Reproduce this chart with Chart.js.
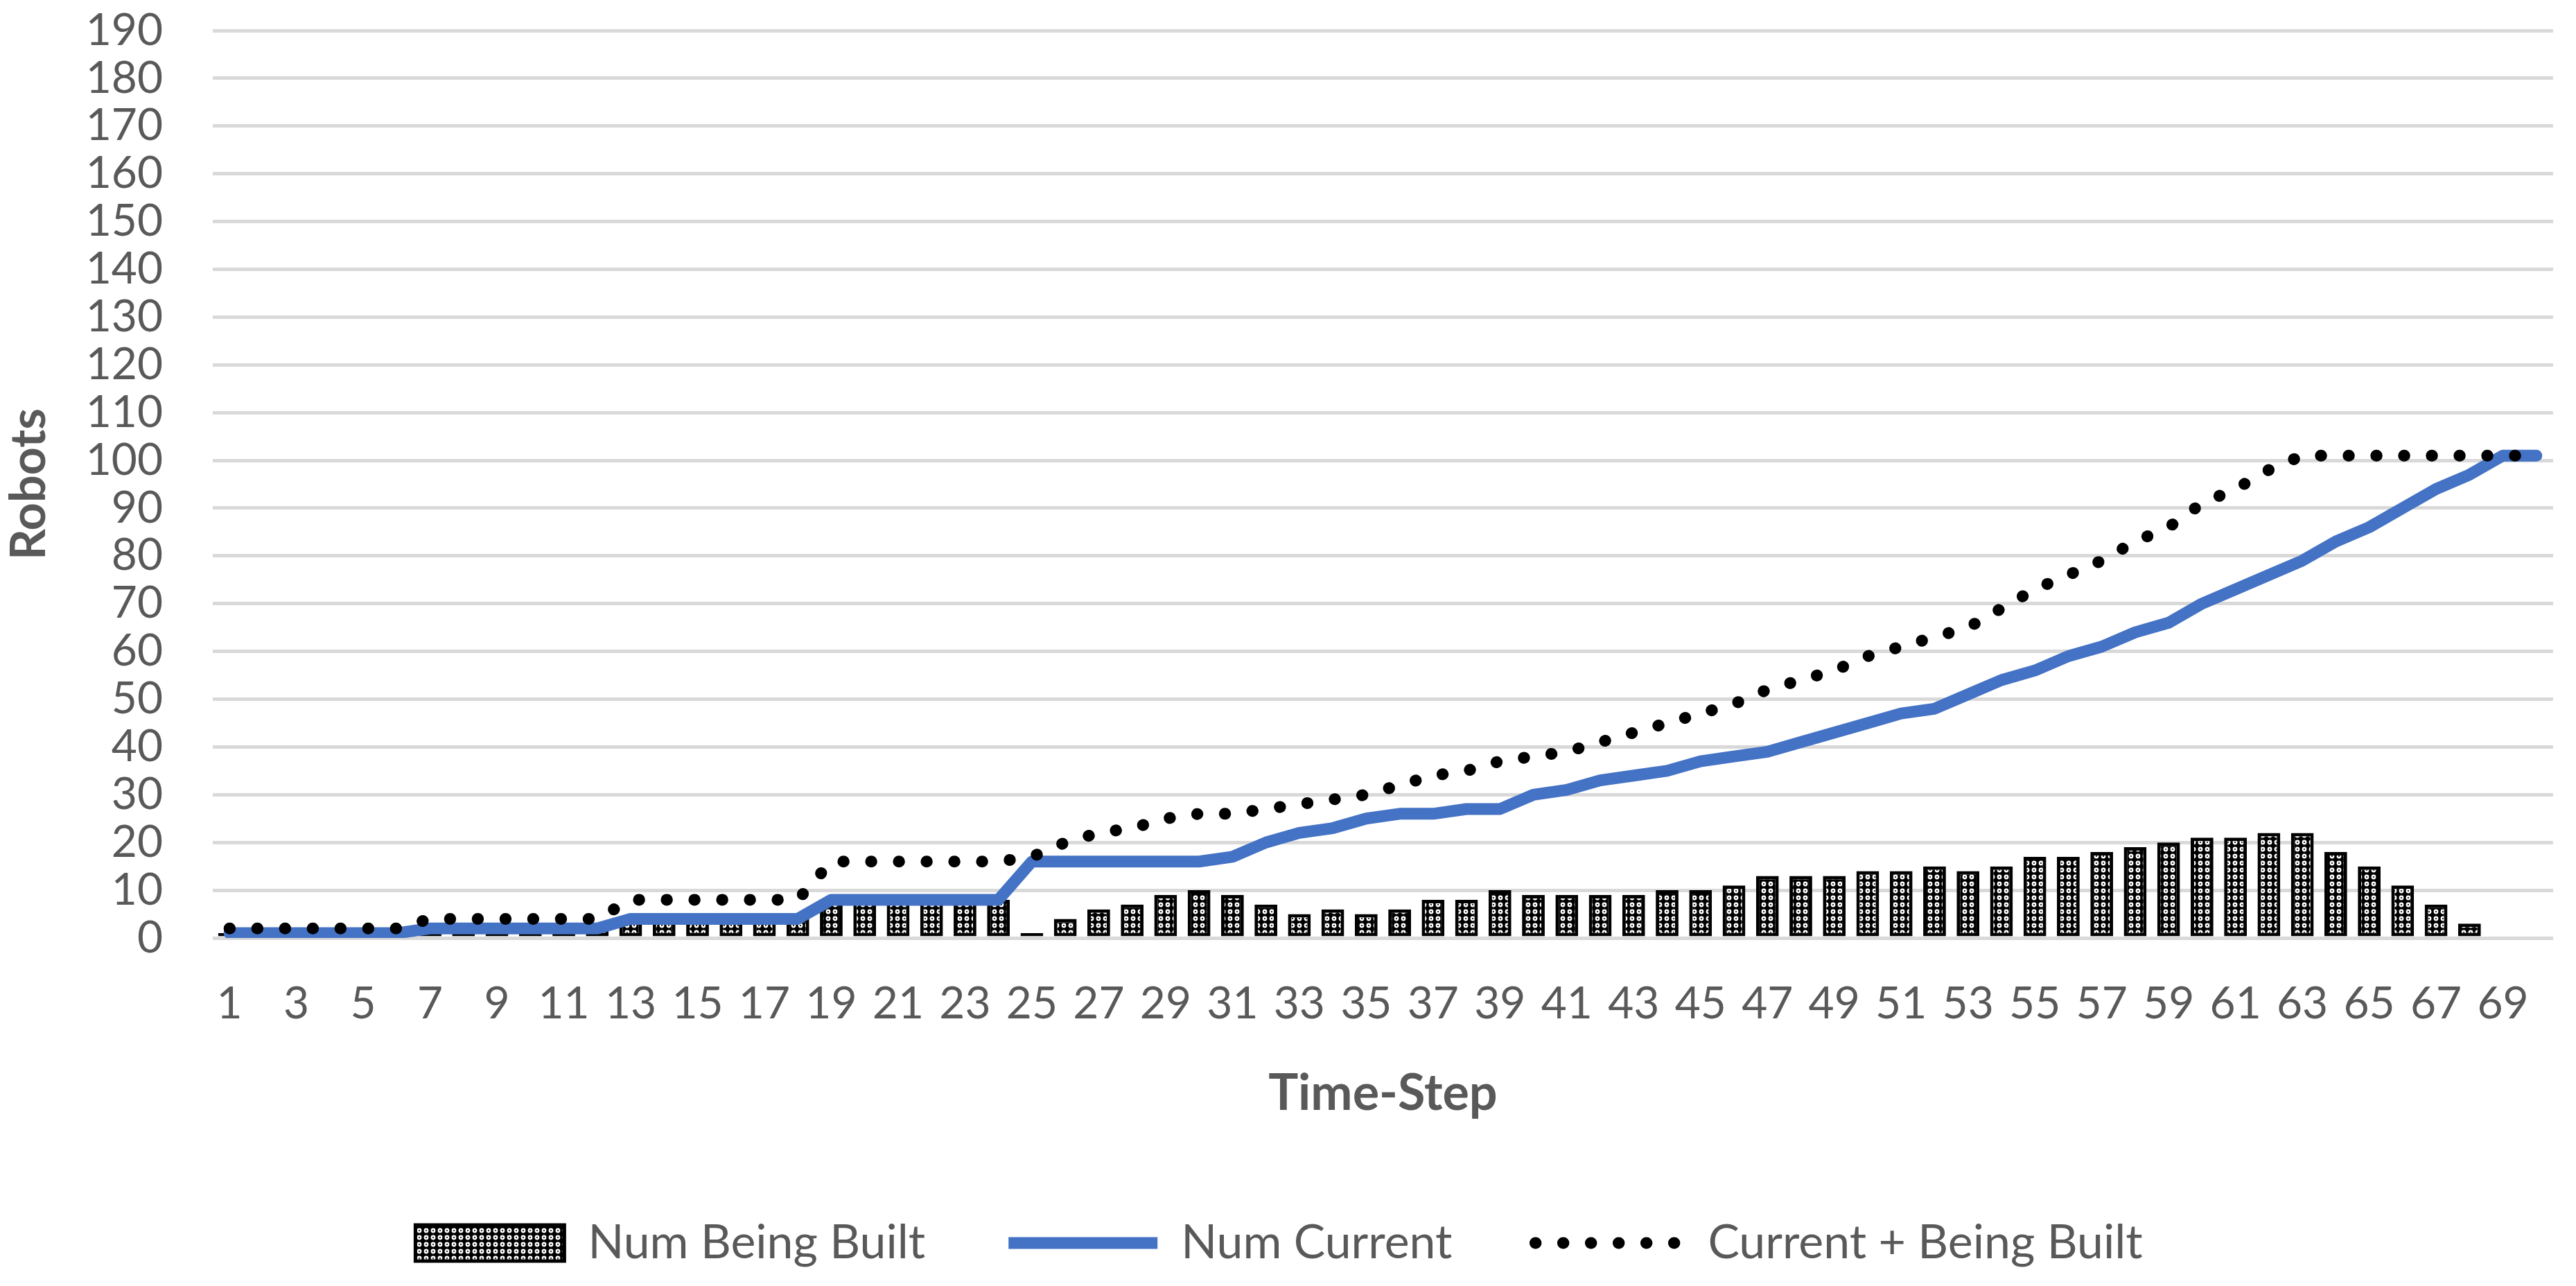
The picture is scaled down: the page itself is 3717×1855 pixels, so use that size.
<!DOCTYPE html>
<html>
<head>
<meta charset="utf-8">
<script src="https://cdn.jsdelivr.net/npm/chart.js@4.4.1/dist/chart.umd.min.js"></script>
<style>
  html, body { margin: 0; padding: 0; background: #fff; }
  #wrap { width: 3717px; height: 1855px; }
</style>
</head>
<body>
<div id="wrap"><canvas id="container"></canvas></div>
<script>
var timeSteps = [1,2,3,4,5,6,7,8,9,10,11,12,13,14,15,16,17,18,19,20,
                 21,22,23,24,25,26,27,28,29,30,31,32,33,34,35,36,37,38,39,40,
                 41,42,43,44,45,46,47,48,49,50,51,52,53,54,55,56,57,58,59,60,
                 61,62,63,64,65,66,67,68,69,70];

var numBeingBuilt = [1,1,1,1,1,1,2,2,2,2,2,2,4,4,4,4,4,4,8,8,
                     8,8,8,8,1,4,6,7,9,10,9,7,5,6,5,6,8,8,10,9,
                     9,9,9,10,10,11,13,13,13,14,14,15,14,15,17,17,18,19,20,21,
                     21,22,22,18,15,11,7,3,0,0];

var numCurrent = [1,1,1,1,1,1,2,2,2,2,2,2,4,4,4,4,4,4,8,8,
                  8,8,8,8,16,16,16,16,16,16,17,20,22,23,25,26,26,27,27,30,
                  31,33,34,35,37,38,39,41,43,45,47,48,51,54,56,59,61,64,66,70,
                  73,76,79,83,86,90,94,97,101,101];

var currentPlusBuilt = [2,2,2,2,2,2,4,4,4,4,4,4,8,8,8,8,8,8,16,16,
                        16,16,16,16,17,20,22,23,25,26,26,27,28,29,30,32,34,35,37,38,
                        39,41,43,45,47,49,52,54,56,59,61,63,65,69,73,76,79,83,86,91,
                        94,98,101,101,101,101,101,101,101,101];

var yTicks = [0,10,20,30,40,50,60,70,80,90,100,110,120,130,140,150,160,170,180,190];

// dotted fill for the bars
function makePattern()
{
    var c = document.createElement("canvas");
    c.width = 10;
    c.height = 10;
    var g = c.getContext("2d");
    g.fillStyle = "#000";
    g.fillRect(0, 0, 10, 10);
    g.fillStyle = "#fff";
    g.beginPath();
    g.arc(5, 5, 3.4, 0, Math.PI * 2);
    g.fill();
    g.fillStyle = "#000";
    g.beginPath();
    g.arc(5, 5, 1.1, 0, Math.PI * 2);
    g.fill();
    return g.createPattern(c, "repeat");
}

var barFill = makePattern();
var textColor = "#595959";

Chart.defaults.font.family = "Lato";
Chart.defaults.color = textColor;

var container = document.getElementById("container").getContext("2d");
var mychart = new Chart(container, {
    type: 'bar',
    data: {
        labels: timeSteps,
        datasets: [
            {
                type: 'bar',
                label: "Num Being Built",
                data: numBeingBuilt,
                backgroundColor: barFill,
                borderColor: "#000",
                borderWidth: 5,
                borderSkipped: false,
                barPercentage: 0.68,
                categoryPercentage: 1,
                order: 3,
            },
            {
                type: 'line',
                label: "Num Current",
                data: numCurrent,
                borderColor: "#4472C4",
                borderWidth: 17,
                borderCapStyle: 'round',
                borderJoinStyle: 'round',
                pointRadius: 0,
                tension: 0,
                order: 2,
            },
            {
                type: 'line',
                label: "Current + Being Built",
                data: currentPlusBuilt,
                borderColor: "#000",
                borderWidth: 17,
                borderDash: [0.5, 39.5],
                borderCapStyle: 'round',
                borderJoinStyle: 'round',
                pointRadius: 0,
                tension: 0,
                order: 1,
            },
        ],
    },
    options: {
        responsive: true,
        maintainAspectRatio: false,
        animation: false,
        devicePixelRatio: 1,
        layout: { padding: { left: 0, right: 26, top: 44, bottom: 18 } },
        plugins: {
            tooltip: { enabled: false },
            legend: {
                position: 'bottom',
                labels: {
                    usePointStyle: true,
                    pointStyleWidth: 215,
                    boxHeight: 52,
                    padding: 120,
                    color: textColor,
                    font: { size: 68 },
                    generateLabels: function(chart)
                    {
                        return [
                            { text: "Num Being Built", fillStyle: barFill, strokeStyle: "#000", lineWidth: 5,
                              pointStyle: 'rect', fontColor: textColor, datasetIndex: 0, hidden: false },
                            { text: "Num Current", fillStyle: "#4472C4", strokeStyle: "#4472C4", lineWidth: 17,
                              pointStyle: 'line', lineCap: 'butt', fontColor: textColor, datasetIndex: 1, hidden: false },
                            { text: "Current + Being Built", fillStyle: "#000", strokeStyle: "#000", lineWidth: 17,
                              pointStyle: 'line', lineCap: 'round', lineDash: [0.5, 39.5], fontColor: textColor,
                              datasetIndex: 2, hidden: false },
                        ];
                    },
                },
            },
        },
        scales: {
            x: {
                afterFit: function(s) { s.height = 286; },
                grid: { display: false, drawTicks: false },
                border: { display: false },
                ticks: {
                    autoSkip: false,
                    maxRotation: 0,
                    minRotation: 0,
                    padding: 57,
                    font: { size: 64 },
                    color: textColor,
                    callback: function(v, i) { return i % 2 === 0 ? timeSteps[i] : ''; },
                },
                title: { display: true, text: "Time-Step", color: textColor,
                         font: { size: 72, weight: 'bold' }, padding: { top: 0, bottom: 18 } },
            },
            y: {
                min: 0,
                max: 190,
                afterBuildTicks: function(s) { s.ticks = yTicks.map(function(v) { return { value: v }; }); },
                afterFit: function(s) { s.width = 307; s.paddingTop = 0; s.paddingBottom = 0; },
                grid: { color: "#d9d9d9", lineWidth: 5, drawTicks: false },
                border: { display: false },
                ticks: { autoSkip: false, padding: 72, font: { size: 64 }, color: textColor },
                title: { display: true, text: "Robots", color: textColor,
                         font: { size: 70, weight: 'bold' }, padding: { top: 0, bottom: 0 } },
            },
        },
    },
});
</script>
</body>
</html>
